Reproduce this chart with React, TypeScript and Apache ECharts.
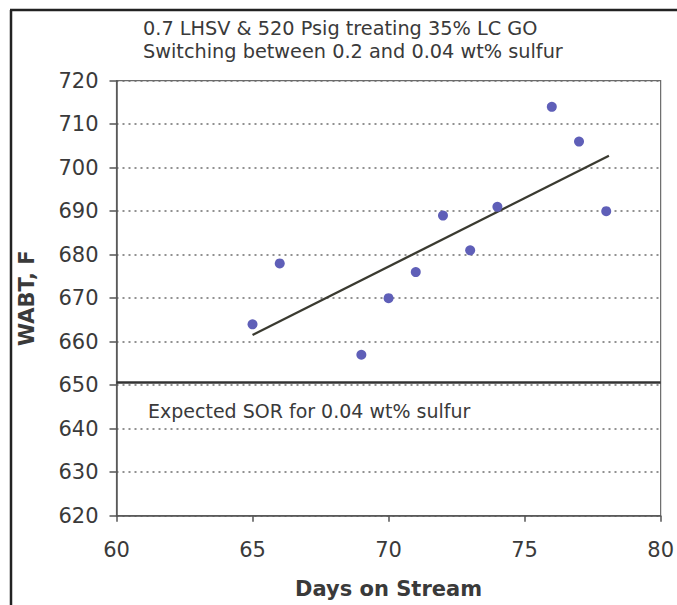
import React, { useEffect, useRef } from "react";
import * as echarts from "echarts";

const days = [65, 66, 69, 70, 71, 72, 73, 74, 76, 77, 78];
const wabt = [664, 678, 657, 670, 676, 689, 681, 691, 714, 706, 690];
const trendDays = [65, 78.1];
const expectedSOR = 650.6;
const sorRange = [60, 80];
const titleLines = [
  "0.7 LHSV & 520 Psig treating 35% LC GO",
  "Switching between 0.2 and 0.04 wt% sulfur",
];
const sorLabel = "Expected SOR for 0.04 wt% sulfur";

const FONT = "DejaVu Sans";
const TXT = "#3a3a3a";

function fit(xs: number[], ys: number[]) {
  const n = xs.length;
  const mx = xs.reduce((a, b) => a + b, 0) / n;
  const my = ys.reduce((a, b) => a + b, 0) / n;
  let sxy = 0, sxx = 0;
  for (let i = 0; i < n; i++) {
    sxy += (xs[i] - mx) * (ys[i] - my);
    sxx += (xs[i] - mx) * (xs[i] - mx);
  }
  const b = sxy / sxx;
  return (x: number) => my + b * (x - mx);
}

export default function App() {
  const ref = useRef<HTMLDivElement>(null);
  useEffect(() => {
    if (!ref.current) return;
    const chart = echarts.init(ref.current, undefined, { renderer: "svg" });
    const f = fit(days, wabt);
    chart.setOption({
      animation: false,
      backgroundColor: "#ffffff",
      grid: {
        left: 116.5,
        right: 10,
        top: 80.7,
        bottom: 89.3,
        show: true,
        borderColor: "#6a6a6a",
        borderWidth: 1.2,
      },
      xAxis: {
        type: "value",
        min: 60,
        max: 80,
        interval: 5,
        name: "Days on Stream",
        nameLocation: "middle",
        nameGap: 63,
        nameTextStyle: { fontFamily: FONT, fontSize: 21, fontWeight: "bold", color: TXT },
        axisLine: { show: true, lineStyle: { color: "#555", width: 1.5 } },
        axisTick: { show: true, length: 6, lineStyle: { color: "#555", width: 1.5 } },
        axisLabel: { fontFamily: FONT, fontSize: 21, color: TXT, margin: 24 },
        splitLine: { show: false },
      },
      yAxis: {
        type: "value",
        min: 620,
        max: 720,
        interval: 10,
        name: "WABT, F",
        nameLocation: "middle",
        nameGap: 79,
        nameTextStyle: { fontFamily: FONT, fontSize: 21, fontWeight: "bold", color: TXT },
        axisLine: { show: true, lineStyle: { color: "#555", width: 1.5 } },
        axisTick: { show: true, length: 7, lineStyle: { color: "#555", width: 1.5 } },
        axisLabel: { fontFamily: FONT, fontSize: 21, color: TXT, margin: 18 },
        splitLine: {
          show: true,
          lineStyle: { color: "#6e6e6e", width: 1.6, type: [2, 4] },
        },
      },
      series: [
        {
          type: "line",
          data: sorRange.map((x) => [x, expectedSOR]),
          symbol: "none",
          lineStyle: { color: "#333", width: 2.5 },
          z: 3,
        },
        {
          type: "line",
          data: trendDays.map((x) => [x, f(x)]),
          symbol: "none",
          lineStyle: { color: "#3a3a30", width: 2.3 },
          z: 4,
        },
        {
          type: "scatter",
          data: days.map((d, i) => [d, wabt[i]]),
          symbol: "circle",
          symbolSize: 10,
          itemStyle: { color: "#5f5fb8", opacity: 1 },
          z: 5,
        },
      ],
      graphic: [
        {
          type: "line",
          shape: { x1: 11, y1: 10, x2: 11, y2: 605 },
          style: { stroke: "#222", lineWidth: 2.5 },
        },
        {
          type: "line",
          shape: { x1: 10, y1: 10, x2: 677, y2: 10 },
          style: { stroke: "#222", lineWidth: 2.5 },
        },
        {
          type: "text",
          left: 143,
          top: 17,
          style: {
            text: titleLines.join("\n"),
            fontFamily: FONT,
            fontSize: 19.3,
            lineHeight: 23,
            fill: TXT,
          },
        },
        {
          type: "text",
          left: 148,
          top: 401,
          style: {
            text: sorLabel,
            fontFamily: FONT,
            fontSize: 19,
            fill: TXT,
          },
        },
      ],
    });
    return () => chart.dispose();
  }, []);
  return <div ref={ref} style={{ width: 677, height: 605, position: "absolute", left: 0, top: 0 }} />;
}
